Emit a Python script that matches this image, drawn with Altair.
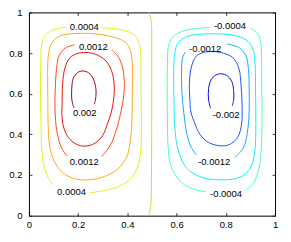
import altair as alt
import pandas as pd

TICKS = [0, 0.2, 0.4, 0.6, 0.8, 1]
FONT = "Liberation Sans"

LEVELS = ["0.002", "0.0016", "0.0012", "0.0008", "0.0004", "0",
          "-0.0004", "-0.0008", "-0.0012", "-0.0016", "-0.002"]
COLORS = ["#8c0c0c", "#ea1010", "#ff4a1a", "#ffaa1a", "#e2f21c", "#a6ec3c",
          "#4dffb0", "#10eef6", "#1aa6ff", "#1a55ff", "#0a0ae0"]

# ---- left cell (positive) ----
yel_a_x = [0.293, 0.373, 0.427, 0.450, 0.455, 0.456, 0.457, 0.455, 0.442, 0.405, 0.340, 0.250]
yel_a_y = [0.924, 0.915, 0.890, 0.840, 0.750, 0.600, 0.450, 0.330, 0.240, 0.172, 0.133, 0.113]
yel_b_x = [0.100, 0.075, 0.060, 0.052, 0.049, 0.047, 0.048, 0.052, 0.065, 0.100, 0.155]
yel_b_y = [0.150, 0.195, 0.250, 0.330, 0.450, 0.600, 0.750, 0.840, 0.885, 0.915, 0.927]

ora_x = [0.077, 0.076, 0.079, 0.092, 0.118, 0.160, 0.225, 0.290, 0.345, 0.390, 0.412, 0.420,
         0.420, 0.418, 0.412, 0.398, 0.360, 0.295, 0.215, 0.150, 0.108, 0.085, 0.078, 0.077]
ora_y = [0.550, 0.700, 0.790, 0.848, 0.880, 0.893, 0.897, 0.892, 0.878, 0.855, 0.815, 0.750,
         0.600, 0.450, 0.370, 0.290, 0.228, 0.188, 0.176, 0.200, 0.255, 0.340, 0.450, 0.550]

rdo_a_x = [0.338, 0.365, 0.382, 0.388, 0.382, 0.368, 0.352, 0.330, 0.295]
rdo_a_y = [0.815, 0.778, 0.720, 0.640, 0.560, 0.480, 0.410, 0.345, 0.290]
rdo_b_x = [0.155, 0.130, 0.113, 0.106, 0.107, 0.112, 0.122, 0.148, 0.185]
rdo_b_y = [0.292, 0.340, 0.420, 0.520, 0.620, 0.720, 0.785, 0.825, 0.840]

red_x = [0.135, 0.137, 0.146, 0.165, 0.195, 0.232, 0.272, 0.310, 0.335, 0.346, 0.345,
         0.335, 0.320, 0.300, 0.268, 0.228, 0.192, 0.160, 0.140, 0.134, 0.135]
red_y = [0.550, 0.650, 0.725, 0.775, 0.797, 0.803, 0.793, 0.765, 0.715, 0.650, 0.580,
         0.510, 0.455, 0.395, 0.356, 0.342, 0.352, 0.385, 0.440, 0.500, 0.550]

drk_x = [0.183, 0.175, 0.174, 0.180, 0.197, 0.220, 0.243, 0.262, 0.272, 0.272, 0.266]
drk_y = [0.530, 0.565, 0.625, 0.675, 0.703, 0.712, 0.702, 0.672, 0.625, 0.585, 0.548]

# ---- zero line ----
zero_x = [0.488, 0.494, 0.498, 0.499, 0.499, 0.498, 0.496, 0.492, 0.487]
zero_y = [1.000, 0.975, 0.940, 0.800, 0.500, 0.200, 0.060, 0.025, 0.000]

# ---- right cell (negative) ----
grn_a_x = [0.735, 0.680, 0.630, 0.590, 0.568, 0.563, 0.562, 0.563, 0.566, 0.580, 0.620, 0.670, 0.720]
grn_a_y = [0.926, 0.921, 0.910, 0.885, 0.840, 0.750, 0.600, 0.450, 0.330, 0.235, 0.163, 0.130, 0.118]
grn_b_x = [0.880, 0.912, 0.935, 0.945, 0.947, 0.946, 0.945, 0.942, 0.930, 0.900]
grn_b_y = [0.122, 0.160, 0.235, 0.350, 0.500, 0.650, 0.780, 0.848, 0.895, 0.922]

cyn_x = [0.590, 0.588, 0.593, 0.605, 0.640, 0.690, 0.740, 0.790, 0.835, 0.882, 0.908, 0.918,
         0.921, 0.922, 0.918, 0.900, 0.860, 0.780, 0.700, 0.640, 0.605, 0.592, 0.590]
cyn_y = [0.550, 0.700, 0.800, 0.848, 0.880, 0.892, 0.895, 0.893, 0.887, 0.865, 0.828, 0.760,
         0.600, 0.450, 0.320, 0.235, 0.190, 0.176, 0.190, 0.235, 0.330, 0.450, 0.550]

lbl_a_x = [0.805, 0.855, 0.882, 0.892, 0.895, 0.895, 0.890, 0.872, 0.838]
lbl_a_y = [0.845, 0.826, 0.785, 0.720, 0.620, 0.520, 0.430, 0.335, 0.288]
lbl_b_x = [0.680, 0.660, 0.642, 0.630, 0.622, 0.620, 0.624, 0.636]
lbl_b_y = [0.300, 0.335, 0.400, 0.500, 0.600, 0.700, 0.775, 0.806]

blu_x = [0.655, 0.652, 0.660, 0.680, 0.722, 0.778, 0.828, 0.853, 0.862, 0.866, 0.864,
         0.848, 0.815, 0.775, 0.730, 0.695, 0.672, 0.658, 0.655]
blu_y = [0.550, 0.650, 0.730, 0.785, 0.806, 0.803, 0.778, 0.725, 0.640, 0.550, 0.450,
         0.385, 0.350, 0.344, 0.360, 0.400, 0.460, 0.510, 0.550]

dbl_x = [0.738, 0.730, 0.730, 0.740, 0.760, 0.782, 0.808, 0.826, 0.832, 0.832, 0.826]
dbl_y = [0.528, 0.570, 0.625, 0.668, 0.692, 0.698, 0.686, 0.655, 0.610, 0.570, 0.540]

PATHS = [
    ("0.0004", yel_a_x, yel_a_y), ("0.0004", yel_b_x, yel_b_y),
    ("0.0008", ora_x, ora_y),
    ("0.0012", rdo_a_x, rdo_a_y), ("0.0012", rdo_b_x, rdo_b_y),
    ("0.0016", red_x, red_y),
    ("0.002", drk_x, drk_y),
    ("0", zero_x, zero_y),
    ("-0.0004", grn_a_x, grn_a_y), ("-0.0004", grn_b_x, grn_b_y),
    ("-0.0008", cyn_x, cyn_y),
    ("-0.0012", lbl_a_x, lbl_a_y), ("-0.0012", lbl_b_x, lbl_b_y),
    ("-0.0016", blu_x, blu_y),
    ("-0.002", dbl_x, dbl_y),
]

LABEL_TEXT = ["0.0004", "0.0012", "0.002", "0.0012", "0.0004",
              "-0.0004", "-0.0012", "-0.002", "-0.0012", "-0.0004"]
LABEL_X = [0.225, 0.262, 0.227, 0.225, 0.173, 0.817, 0.716, 0.801, 0.753, 0.801]
LABEL_Y = [0.930, 0.830, 0.506, 0.262, 0.114, 0.933, 0.819, 0.497, 0.264, 0.106]

rows = []
for pid, (lev, xs, ys) in enumerate(PATHS):
    for i, (x, y) in enumerate(zip(xs, ys)):
        rows.append({"pid": pid, "level": lev, "x": x, "y": y, "i": i})
df = pd.DataFrame(rows)
lab = pd.DataFrame({"t": LABEL_TEXT, "x": LABEL_X, "y": LABEL_Y})
tk = pd.DataFrame({"x": TICKS, "y": TICKS})

xsc = alt.Scale(domain=[0, 1], nice=False, zero=False)
ysc = alt.Scale(domain=[0, 1], nice=False, zero=False)


def label_axis(orient, pad):
    return alt.Axis(orient=orient, values=TICKS, format="~g", ticks=False, tickSize=0,
                    domain=False, grid=False, labelPadding=pad, labelFontSize=9.5,
                    labelFont=FONT, labelColor="black", labelFlush=False, title=None)


def tick_axis(orient):
    return alt.Axis(orient=orient, offset=-3, values=TICKS, labels=False, domain=False,
                    grid=False, ticks=True, tickSize=3, tickColor="black", tickWidth=0.8,
                    title=None)


lines = alt.Chart(df).mark_line(strokeWidth=1, interpolate="catmull-rom").encode(
    x=alt.X("x:Q", scale=xsc, axis=label_axis("bottom", 4)),
    y=alt.Y("y:Q", scale=ysc, axis=label_axis("left", 7)),
    color=alt.Color("level:N", scale=alt.Scale(domain=LEVELS, range=COLORS), legend=None),
    detail="pid:N",
    order="i:Q",
)

texts = alt.Chart(lab).mark_text(font=FONT, fontSize=9.5, color="black",
                                 align="center", baseline="middle").encode(
    x=alt.X("x:Q", scale=xsc, axis=tick_axis("bottom")),
    y=alt.Y("y:Q", scale=ysc, axis=tick_axis("left")),
    text="t:N",
)

frame = alt.Chart(tk).mark_point(opacity=0).encode(
    x=alt.X("x:Q", scale=xsc, axis=tick_axis("top")),
    y=alt.Y("y:Q", scale=ysc, axis=tick_axis("right")),
)

chart = alt.layer(lines, texts, frame).resolve_axis(
    x="independent", y="independent"
).properties(
    width=247, height=204,
    autosize=alt.AutoSizeParams(type="none"),
    padding={"left": 21, "top": 4, "right": 8, "bottom": 22},
    background="white",
).configure_view(stroke="black", strokeWidth=1)

chart.save("out.html", embed_options={"renderer": "svg", "actions": False})
